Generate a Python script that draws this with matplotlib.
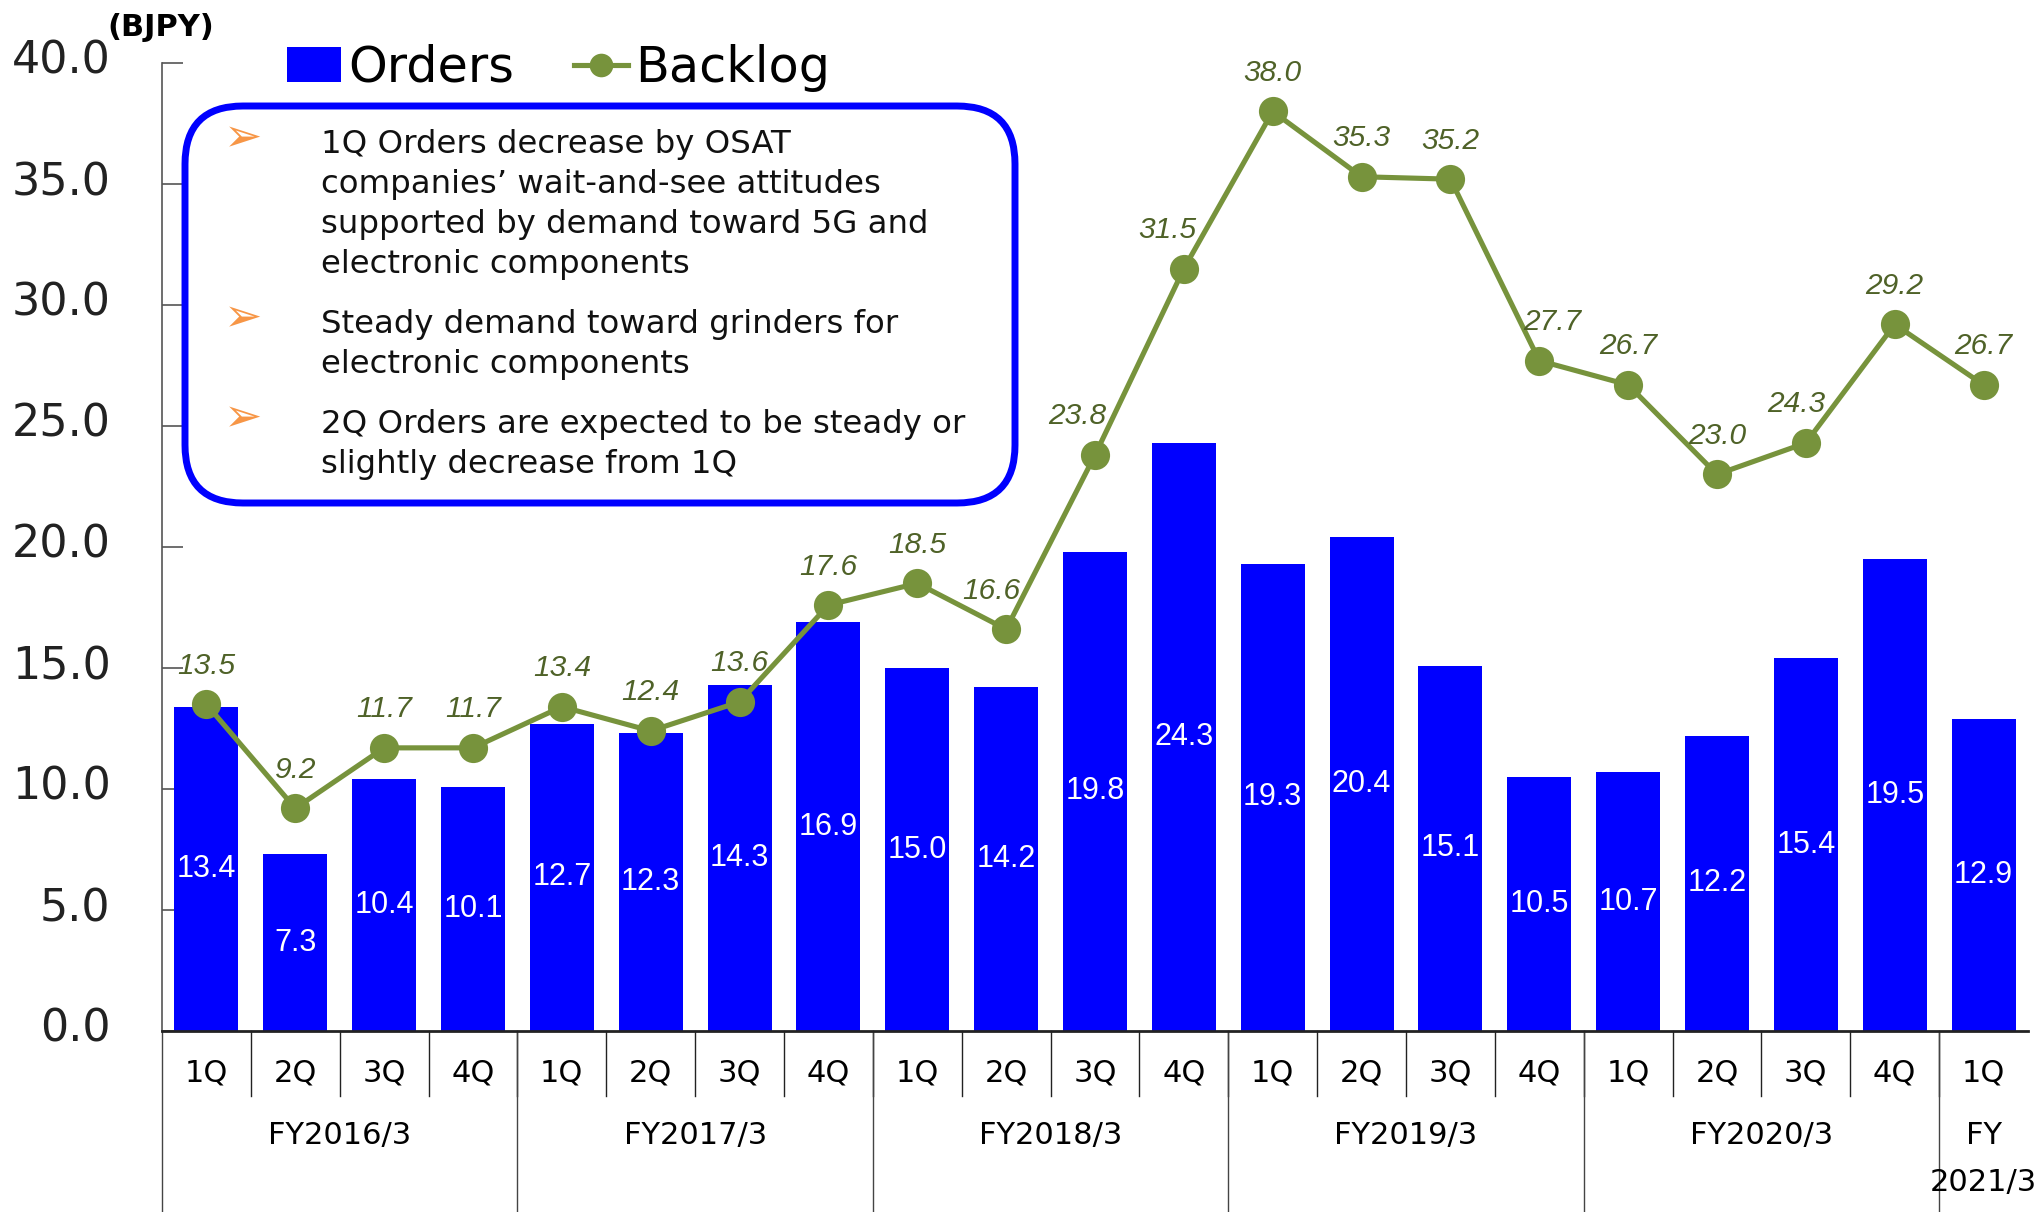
import numpy as np
import matplotlib
matplotlib.use('Agg')
import matplotlib.pyplot as plt
import matplotlib.transforms as mtrans
from matplotlib.patches import FancyBboxPatch, Patch
from matplotlib.lines import Line2D

# chart data
quarters = ['1Q', '2Q', '3Q', '4Q'] * 5 + ['1Q']
fiscal_years = ['FY2016/3', 'FY2017/3', 'FY2018/3', 'FY2019/3', 'FY2020/3', 'FY\n2021/3']
quarters_per_year = [4, 4, 4, 4, 4, 1]
orders = [13.4, 7.3, 10.4, 10.1, 12.7, 12.3, 14.3, 16.9, 15.0, 14.2, 19.8,
          24.3, 19.3, 20.4, 15.1, 10.5, 10.7, 12.2, 15.4, 19.5, 12.9]
backlog = [13.5, 9.2, 11.7, 11.7, 13.4, 12.4, 13.6, 17.6, 18.5, 16.6, 23.8,
           31.5, 38.0, 35.3, 35.2, 27.7, 26.7, 23.0, 24.3, 29.2, 26.7]
y_ticks = [0, 5, 10, 15, 20, 25, 30, 35, 40]

comments = [
    ['1Q Orders decrease by OSAT',
     'companies\u2019 wait-and-see attitudes',
     'supported by demand toward 5G and',
     'electronic components'],
    ['Steady demand toward grinders for',
     'electronic components'],
    ['2Q Orders are expected to be steady or',
     'slightly decrease from 1Q'],
]

# small horizontal nudges (points) for a few backlog labels
backlog_label_dx = [0] * len(backlog)
backlog_label_dx[9] = -11
backlog_label_dx[10] = -13
backlog_label_dx[11] = -12
backlog_label_dx[15] = 9
backlog_label_dx[18] = -7

BAR_BLUE = '#0000FF'
LINE_GREEN = '#77933C'
LABEL_GREEN = '#4F6228'
BULLET_ORANGE = '#F79646'

W, H = 2038, 1212
fig = plt.figure(figsize=(W / 100, H / 100), dpi=100)
ax = fig.add_axes([162 / W, (H - 1031) / H, 1866 / W, 968 / H])

x = np.arange(len(orders))
ax.bar(x, orders, width=0.72, color=BAR_BLUE, zorder=2)
ax.plot(x, backlog, color=LINE_GREEN, lw=3.7, marker='o', ms=21,
        markeredgewidth=0, zorder=3)

for xi, v in zip(x, orders):
    ax.text(xi, v / 2, f'{v:.1f}', ha='center', va='center', color='white',
            fontsize=22, family='Liberation Sans', zorder=4)

for xi, v, dx in zip(x, backlog, backlog_label_dx):
    ax.annotate(f'{v:.1f}', (xi, v), xytext=(dx, 22), textcoords='offset points',
                ha='center', va='baseline', fontsize=21.5, style='italic',
                family='Liberation Sans', color=LABEL_GREEN, zorder=4)

ax.set_xlim(-0.5, len(orders) - 0.5)
ax.set_ylim(0, 40)
ax.set_yticks(y_ticks)
ax.set_yticklabels([f'{t:.1f}' for t in y_ticks])
ax.tick_params(axis='y', direction='in', length=15, width=1.2, color='#555555',
               labelsize=32, pad=37, labelcolor='#222222')
lift = mtrans.ScaledTranslation(0, 6 / 100, fig.dpi_scale_trans)
for lab in ax.get_yticklabels():
    lab.set_transform(lab.get_transform() + lift)
ax.set_xticks([])
for s in ['top', 'right']:
    ax.spines[s].set_visible(False)
ax.spines['left'].set_color('#555555')
ax.spines['left'].set_linewidth(1.2)
ax.spines['bottom'].set_color('#222222')
ax.spines['bottom'].set_linewidth(2)

# category axis below the plot
tr = ax.get_xaxis_transform()
px = 1 / 968
for xi, q in zip(x, quarters):
    ax.text(xi, -42 * px, q, transform=tr, ha='center', va='center', fontsize=22)
for b in np.arange(0.5, len(orders) - 0.5):
    ax.plot([b, b], [0, -65 * px], transform=tr, color='#222222', lw=1, clip_on=False)

start = 0
for fy, n in zip(fiscal_years, quarters_per_year):
    mid = start + (n - 1) / 2
    ax.text(mid, -90 * px, fy, transform=tr, ha='center', va='top',
            fontsize=22, linespacing=1.8)
    ax.plot([start - 0.5, start - 0.5], [0, -181 * px], transform=tr,
            color='#444444', lw=1, clip_on=False)
    start += n

# legend
handles = [Patch(facecolor=BAR_BLUE, edgecolor='none'),
           Line2D([], [], color=LINE_GREEN, lw=3.7, marker='o', ms=17, markeredgewidth=0)]
fig.legend(handles, ['Orders', 'Backlog'], loc='center left',
           bbox_to_anchor=(287 / W, 1 - 68 / H), ncol=2, frameon=False,
           fontsize=35.5, handlelength=1.1, handleheight=0.7, handletextpad=0.15,
           columnspacing=1.2, borderpad=0, borderaxespad=0)

fig.text(107 / W, 1 - 13 / H, '(BJPY)', fontsize=22, fontweight='bold',
         ha='left', va='top')

# comment box, drawn in pixel coordinates
ov = fig.add_axes([0, 0, 1, 1])
ov.set_xlim(0, W)
ov.set_ylim(H, 0)
ov.set_axis_off()
ov.add_patch(FancyBboxPatch((185, 106), 830, 397,
                            boxstyle='round,pad=0,rounding_size=58',
                            facecolor='white', edgecolor=BAR_BLUE, lw=5))
y = 153
for para in comments:
    ov.text(224, y - 2, '\u27a2', color=BULLET_ORANGE, fontsize=33, va='baseline')
    for line in para:
        ov.text(321, y, line, fontsize=23.3, va='baseline', color='#111111')
        y += 40
    y += 20

fig.savefig('out.png', dpi=100)
